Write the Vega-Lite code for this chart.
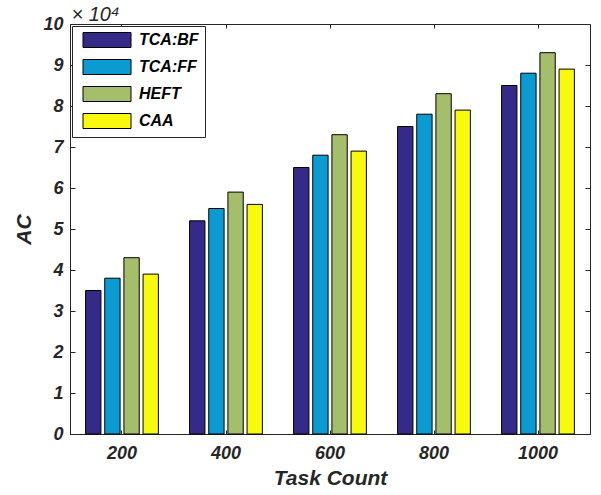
{
  "$schema": "https://vega.github.io/schema/vega-lite/v6.json",
  "width": 520,
  "height": 410,
  "autosize": {"type": "none"},
  "padding": {"left": 70, "top": 24, "right": 11, "bottom": 61},
  "background": "white",
  "config": {
    "font": "Liberation Sans",
    "view": {"stroke": "#262626", "strokeWidth": 1},
    "axis": {"grid": false, "domainColor": "#262626", "tickColor": "#262626", "labelColor": "#262626", "titleColor": "#262626"}
  },
  "data": {
    "values": [
      {"task": "200", "method": "TCA:BF", "value": 35000},
      {"task": "200", "method": "TCA:FF", "value": 38000},
      {"task": "200", "method": "HEFT", "value": 43000},
      {"task": "200", "method": "CAA", "value": 39000},
      {"task": "400", "method": "TCA:BF", "value": 52000},
      {"task": "400", "method": "TCA:FF", "value": 55000},
      {"task": "400", "method": "HEFT", "value": 59000},
      {"task": "400", "method": "CAA", "value": 56000},
      {"task": "600", "method": "TCA:BF", "value": 65000},
      {"task": "600", "method": "TCA:FF", "value": 68000},
      {"task": "600", "method": "HEFT", "value": 73000},
      {"task": "600", "method": "CAA", "value": 69000},
      {"task": "800", "method": "TCA:BF", "value": 75000},
      {"task": "800", "method": "TCA:FF", "value": 78000},
      {"task": "800", "method": "HEFT", "value": 83000},
      {"task": "800", "method": "CAA", "value": 79000},
      {"task": "1000", "method": "TCA:BF", "value": 85000},
      {"task": "1000", "method": "TCA:FF", "value": 88000},
      {"task": "1000", "method": "HEFT", "value": 93000},
      {"task": "1000", "method": "CAA", "value": 89000}
    ]
  },
  "layer": [
    {
      "mark": {"type": "bar", "stroke": "black", "strokeWidth": 1},
      "encoding": {
        "x": {
          "field": "task", "type": "ordinal", "sort": ["200", "400", "600", "800", "1000"],
          "scale": {"paddingInner": 0.3, "paddingOuter": 0.15},
          "title": "Task Count",
          "axis": {"labelAngle": 0, "tickSize": -4, "labelPadding": 14, "labelFontSize": 18, "labelFontWeight": "bold", "labelFontStyle": "italic", "titleFontSize": 21, "titleFontWeight": "bold", "titleFontStyle": "italic", "titlePadding": 5}
        },
        "xOffset": {
          "field": "method", "type": "nominal", "sort": ["TCA:BF", "TCA:FF", "HEFT", "CAA"],
          "scale": {"paddingInner": 0.2, "paddingOuter": 0}
        },
        "y": {
          "field": "value", "type": "quantitative",
          "scale": {"domain": [0, 100000], "nice": false},
          "title": "AC",
          "axis": {"values": [0, 10000, 20000, 30000, 40000, 50000, 60000, 70000, 80000, 90000, 100000], "labelExpr": "datum.value / 10000", "tickSize": -5, "labelPadding": 12, "labelFontSize": 18, "labelFontWeight": "bold", "labelFontStyle": "italic", "titleFontSize": 21, "titleFontWeight": "bold", "titleFontStyle": "italic", "titlePadding": 8}
        },
        "color": {
          "field": "method", "type": "nominal",
          "scale": {"domain": ["TCA:BF", "TCA:FF", "HEFT", "CAA"], "range": ["#352a87", "#0a9bd3", "#a5be6b", "#f8f90d"]},
          "legend": {"title": null, "orient": "none", "legendX": 2, "legendY": 2, "fillColor": "white", "strokeColor": "#262626", "padding": 6, "symbolType": "M-3.2,-1h6.4v2h-6.4Z", "symbolSize": 225, "symbolStrokeColor": "black", "symbolStrokeWidth": 1, "symbolOpacity": 1, "symbolOffset": 21, "labelOffset": 24, "rowPadding": 7, "labelFontSize": 16, "labelFontWeight": "bold", "labelFontStyle": "italic", "labelColor": "black"}
        }
      }
    },
    {
      "mark": {"type": "bar", "opacity": 0},
      "encoding": {
        "x": {"field": "task", "type": "ordinal", "sort": ["200", "400", "600", "800", "1000"], "title": "× 10⁴", "axis": {"orient": "top", "labels": false, "tickSize": -4, "domain": false, "titleFontSize": 20, "titleFontWeight": "normal", "titleFontStyle": "italic", "titleAnchor": "start", "titleAlign": "left", "titleBaseline": "alphabetic", "titleX": 1, "titleY": -4, "titleColor": "#262626"}},
        "y": {"field": "value", "type": "quantitative", "axis": {"orient": "right", "labels": false, "title": null, "tickSize": -5, "domain": false, "values": [0, 10000, 20000, 30000, 40000, 50000, 60000, 70000, 80000, 90000, 100000]}}
      }
    }
  ],
  "resolve": {"axis": {"x": "independent", "y": "independent"}}
}
